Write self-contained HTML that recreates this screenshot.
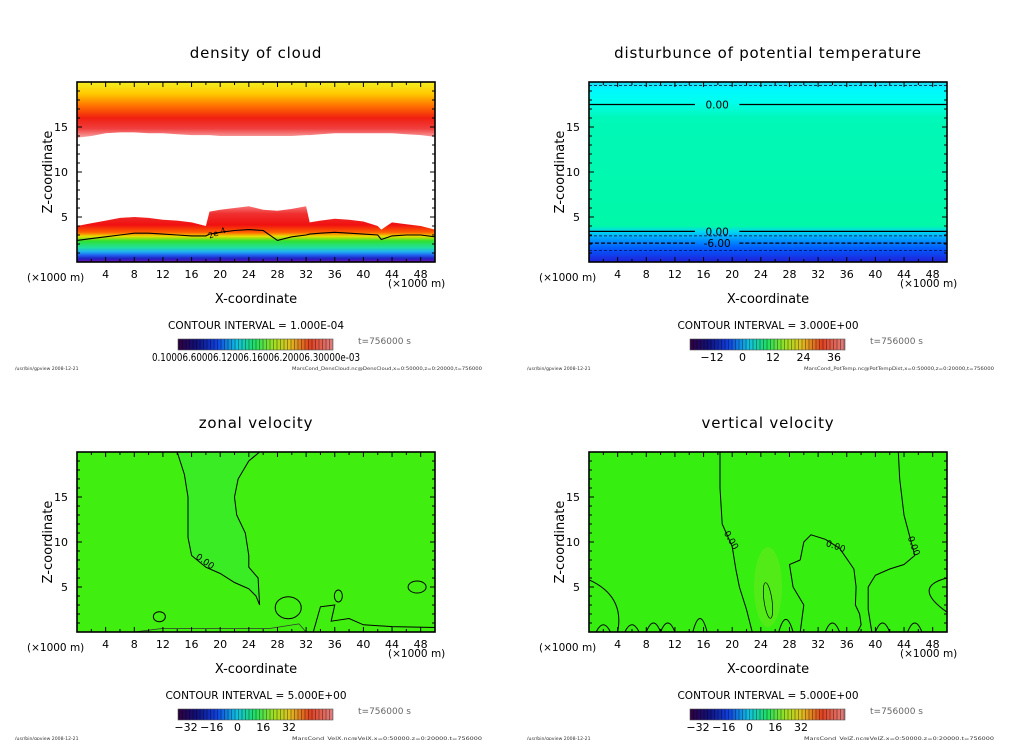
<!DOCTYPE html>
<html><head><meta charset="utf-8">
<style>
html,body{margin:0;padding:0;background:#fff;}
svg{display:block;font-family:"DejaVu Sans","Liberation Sans",sans-serif;}
</style></head>
<body>
<svg id="fig" width="1024" height="740" viewBox="0 0 1024 740" xmlns="http://www.w3.org/2000/svg">
<defs>
<linearGradient id="cbar" x1="0" x2="1" y1="0" y2="0">
<stop offset="0" stop-color="#300040"/><stop offset="0.12" stop-color="#10107a"/><stop offset="0.25" stop-color="#1040e0"/>
<stop offset="0.38" stop-color="#10c0e0"/><stop offset="0.5" stop-color="#20e060"/><stop offset="0.62" stop-color="#a0e020"/>
<stop offset="0.72" stop-color="#e0c020"/><stop offset="0.85" stop-color="#e04020"/><stop offset="1" stop-color="#e08080"/>
</linearGradient>
<pattern id="stripes" width="3.5" height="10" patternUnits="userSpaceOnUse"><rect x="0" y="0" width="1" height="10" fill="rgba(0,0,0,0.35)"/></pattern>
<linearGradient id="topcloud" x1="0" x2="0" y1="82" y2="142" gradientUnits="userSpaceOnUse">
<stop offset="0" stop-color="#f4f020"/><stop offset="0.2" stop-color="#ffc800"/><stop offset="0.4" stop-color="#ff7000"/>
<stop offset="0.6" stop-color="#f02010"/><stop offset="0.78" stop-color="#f04040"/><stop offset="0.92" stop-color="#f8a0a0"/><stop offset="1" stop-color="#fde0e0"/>
</linearGradient>
<linearGradient id="lowcloud" x1="0" x2="0" y1="205" y2="262" gradientUnits="userSpaceOnUse">
<stop offset="0" stop-color="#f88080"/><stop offset="0.15" stop-color="#f03030"/><stop offset="0.35" stop-color="#f01010"/>
<stop offset="0.48" stop-color="#ff6000"/><stop offset="0.55" stop-color="#e8e000"/><stop offset="0.63" stop-color="#30e030"/>
<stop offset="0.75" stop-color="#20e0a0"/><stop offset="0.82" stop-color="#20b0f0"/><stop offset="0.88" stop-color="#2060f0"/>
<stop offset="0.94" stop-color="#2020c0"/><stop offset="1" stop-color="#7010b0"/>
</linearGradient>
<linearGradient id="ptemp" x1="0" x2="0" y1="82" y2="262" gradientUnits="userSpaceOnUse">
<stop offset="0" stop-color="#20d8f0"/><stop offset="0.04" stop-color="#00f8ff"/><stop offset="0.11" stop-color="#00ffee"/>
<stop offset="0.2" stop-color="#00f8b8"/><stop offset="0.8" stop-color="#00f8a8"/><stop offset="0.83" stop-color="#00d8f0"/>
<stop offset="0.87" stop-color="#00a0ff"/><stop offset="0.92" stop-color="#0060ff"/><stop offset="1" stop-color="#2020d8"/>
</linearGradient>
</defs>
<g id="root"></g>
</svg>
<script>
// ---- data ----
const xTicks = [4,8,12,16,20,24,28,32,36,40,44,48];
const zTicks = [5,10,15];
const cbLabelsPT = ["-12","0","12","24","36"];
const cbValuesPT = [-12,0,12,24,36];
const cbLabelsV = ["-32","-16","0","16","32"];
const cbValuesV = [-32,-16,0,16,32];
// density of cloud: lower cloud top height (km) at x (km)
const cloudX = [0,2,4,6,8,10,12,14,16,18,18.5,20,22,24,26,28,30,32,32.5,34,36,38,40,42,42.5,44,46,48,50];
const cloudTop = [4.0,4.3,4.6,4.9,5.0,4.9,4.7,4.6,4.4,4.0,5.6,5.8,6.0,6.2,5.8,5.7,5.9,6.2,4.4,4.6,4.8,4.7,4.5,4.0,3.6,4.4,4.2,4.0,3.6];
const upperBase = [13.8,14.0,14.3,14.4,14.4,14.3,14.3,14.2,14.1,14.1,14.1,14.0,14.0,14.0,14.0,14.0,14.0,14.1,14.1,14.2,14.3,14.3,14.3,14.3,14.3,14.3,14.2,14.1,13.9];
const contour2e4 = [2.4,2.6,2.8,3.0,3.2,3.2,3.1,3.0,2.9,2.9,3.1,3.3,3.5,3.6,3.5,2.4,2.8,3.0,3.1,3.2,3.3,3.2,3.1,3.0,2.5,2.9,3.0,3.0,2.8];
// zonal velocity 0-contour
const zonalX = [14,15,15.5,15.5,16,18,20,22,24,25,25.5,25.3,24,24,23.5,22.3,22,22.5,24,25.5];
const zonalZ = [20,17.5,15,10.5,8.5,7.2,6.5,5.5,4.8,4.0,3.0,6.0,7.2,8.5,11,13,15,17,19,20];
// vertical velocity 0-contours
const vvAx = [18.3,18.3,18.6,20,20.5,21,22,22.8];
const vvAz = [20,16,12,9.5,7,5,2.5,0];
const vvBx = [43.2,43.4,44,45,45.5,44,42,40,39,39,39.5];
const vvBz = [20,17,13,10,8.5,7.5,7.0,6.3,5,2.5,0];
const vvCx = [29.5,30,31,33,35,37,37.3,37.2,37.8,38,37.5];
const vvCz = [8,10,10.8,10.3,9.3,7,5,3,2,0.8,0];

const NS='http://www.w3.org/2000/svg';
const root=document.getElementById('root');
function el(tag,attrs,parent){const e=document.createElementNS(NS,tag);for(const k in attrs)e.setAttribute(k,attrs[k]);(parent||root).appendChild(e);return e;}
function txt(s,attrs,parent){const e=el('text',attrs,parent);e.textContent=s;return e;}

function panel(ox,oy,name,title,fill){
  const g=el('g',{});
  
  
  const L=ox+77,R=ox+435,T=oy+82,B=oy+262;
  const sx=v=>L+(R-L)*v/50, sz=v=>B-(B-T)*v/20;
  const t=txt(title,{x:ox+256,y:oy+58,'font-size':15,'text-anchor':'middle',fill:'#000','letter-spacing':'0.8'},g);
  
  
  const plot=el('g',{},g);
  
  
  fill(plot,sx,sz,L,R,T,B);
  const fr=el('rect',{x:L,y:T,width:R-L,height:B-T,fill:'none',stroke:'#000','stroke-width':1.6},g);
  
  
  for(let v=2;v<50;v+=2){const major=v%4===0;const h=major?5:3;
    el('line',{x1:sx(v),x2:sx(v),y1:B,y2:B-h,stroke:'#000','stroke-width':1},g);
    el('line',{x1:sx(v),x2:sx(v),y1:T,y2:T+h,stroke:'#000','stroke-width':1},g);}
  for(let v=1;v<20;v++){const major=v%5===0;const h=major?5:3;
    el('line',{x1:L,x2:L+h,y1:sz(v),y2:sz(v),stroke:'#000','stroke-width':1},g);
    el('line',{x1:R,x2:R-h,y1:sz(v),y2:sz(v),stroke:'#000','stroke-width':1},g);}
  xTicks.forEach(v=>{const e=txt(String(v),{x:sx(v),y:B+16,'font-size':11,'text-anchor':'middle'},g);
    
    });
  zTicks.forEach(v=>{const e=txt(String(v),{x:L-9,y:sz(v)+4,'font-size':11,'text-anchor':'end'},g);
    
    });
  const u1=txt('(×1000 m)',{x:ox+27,y:oy+281,'font-size':10.5},g);
  
  
  const u2=txt('(×1000 m)',{x:ox+388,y:oy+287,'font-size':10.5},g);
  
  
  const xa=txt('X-coordinate',{x:ox+256,y:oy+303,'font-size':13,'text-anchor':'middle'},g);
  
  
  const za=txt('Z-coordinate',{x:0,y:0,'font-size':13,'text-anchor':'middle',transform:`translate(${ox+52},${oy+172}) rotate(-90)`},g);
  
  
  return {g,sx,sz,L,R,T,B};
}

function colorbarBlock(ox,oy,name,interval,labels,values,vmin,vmax,garbled,dx){
  const g=el('g',{});
  
  
  const ci=txt('CONTOUR INTERVAL = '+interval,{x:ox+256,y:oy+329,'font-size':10.5,'text-anchor':'middle'},g);
  
  
  el('rect',{x:ox+178,y:oy+339,width:155,height:11,fill:'url(#cbar)'},g);
  el('rect',{x:ox+178,y:oy+339,width:155,height:11,fill:'url(#stripes)'},g);
  el('rect',{x:ox+178,y:oy+339,width:155,height:11,fill:'none',stroke:'#555','stroke-width':0.6},g);
  if(garbled){
    const e=txt(garbled,{x:ox+152,y:oy+361,'font-size':11,textLength:208,lengthAdjust:'spacingAndGlyphs'},g);
    
    
  } else {
    const cx=v=>ox+dx[0]+(dx[1]-dx[0])*(v-vmin)/(vmax-vmin);
    labels.forEach((s,i)=>{const e=txt(s.replace('-','−'),{x:cx(values[i]),y:oy+361,'font-size':11,'text-anchor':'middle'},g);
      
      });
  }
  const tt=txt('t=756000 s',{x:ox+358,y:oy+344,'font-size':9,fill:'#666'},g);
  
  
  const f1=txt('/usr/bin/gpview   2008-12-21',{x:ox+15,y:oy+370,'font-size':4.6,fill:'#333'},g);
  
  
  const f2=txt(name,{x:ox+292,y:oy+370,'font-size':4.6,fill:'#333',textLength:190,lengthAdjust:'spacingAndGlyphs'},g);
  
  
}

function linePath(xs,zs,sx,sz){return xs.map((x,i)=>(i?'L':'M')+sx(x).toFixed(1)+','+sz(zs[i]).toFixed(1)).join(' ');}

// Panel 1: density of cloud
panel(0,0,'density-cloud','density of cloud',(p,sx,sz,L,R,T,B)=>{
  const up=el('path',{d:`M${L},${T} L${R},${T} `+cloudX.slice().reverse().map((x,i)=>'L'+sx(x)+','+sz(upperBase[upperBase.length-1-i])).join(' ')+' Z',fill:'url(#topcloud)'},p);
  
  
  const low=el('path',{d:linePath(cloudX,cloudTop,sx,sz)+` L${R},${B} L${L},${B} Z`,fill:'url(#lowcloud)'},p);
  
  
  const c=el('path',{d:linePath(cloudX,contour2e4,sx,sz),fill:'none',stroke:'#000','stroke-width':1.1},p);
  
  
  txt('2e-4',{x:sx(18.5),y:sz(2.6),'font-size':8,transform:`rotate(-20 ${sx(18.5)} ${sz(2.6)})`},p);
});
// Panel 2: potential temperature
panel(512,0,'potential-temperature','disturbunce of potential temperature',(p,sx,sz,L,R,T,B)=>{
  const bg=el('rect',{x:L,y:T,width:R-L,height:B-T,fill:'url(#ptemp)'},p);
  
  
  [[17.5,0,'0.00'],[3.4,0,'0.00'],[2.1,1,'-6.00']].forEach(([z,d,l])=>{
    const y=sz(z);
    el('line',{x1:L,x2:sx(14.8),y1:y,y2:y,stroke:'#000','stroke-width':1.2,'stroke-dasharray':d?'4,2':'none'},p);
    el('line',{x1:sx(21),x2:R,y1:y,y2:y,stroke:'#000','stroke-width':1.2,'stroke-dasharray':d?'4,2':'none'},p);
    txt(l,{x:sx(17.9),y:y+4,'font-size':10.5,'text-anchor':'middle'},p);
  });
  [19.6,2.9,1.3].forEach(z=>el('line',{x1:L,x2:R,y1:sz(z),y2:sz(z),stroke:'#003','stroke-width':0.7,'stroke-dasharray':'3,2'},p));
});
// Panel 3: zonal velocity
panel(0,370,'zonal-velocity','zonal velocity',(p,sx,sz,L,R,T,B)=>{
  const bg=el('rect',{x:L,y:T,width:R-L,height:B-T,fill:'#40ee10'},p);
  
  
  const c=el('path',{d:linePath(zonalX,zonalZ,sx,sz),fill:'#3aec24',stroke:'#000','stroke-width':1},p);
  
  
  txt('0.00',{x:sx(16.5),y:sz(8.2),'font-size':9,transform:`rotate(35 ${sx(16.5)} ${sz(8.2)})`},p);
  el('ellipse',{cx:sx(29.5),cy:sz(2.7),rx:13,ry:11,fill:'none',stroke:'#000','stroke-width':1},p);
  el('ellipse',{cx:sx(47.5),cy:sz(5),rx:9,ry:6,fill:'none',stroke:'#000','stroke-width':1},p);
  el('ellipse',{cx:sx(11.5),cy:sz(1.7),rx:6,ry:5,fill:'none',stroke:'#000','stroke-width':1},p);
  el('ellipse',{cx:sx(36.5),cy:sz(4),rx:4,ry:6,fill:'none',stroke:'#000','stroke-width':1},p);
  el('path',{d:`M${sx(33)},${B} L${sx(34)},${sz(2.8)} L${sx(36)},${sz(3)} L${sx(35.5)},${sz(1.2)} L${sx(38)},${sz(1.5)} L${sx(40)},${sz(0.8)} L${sx(44)},${sz(0.6)} L${sx(50)},${sz(0.5)}`,fill:'none',stroke:'#000','stroke-width':1},p);
  el('path',{d:`M${sx(8)},${B} L${sx(12)},${sz(0.4)} L${sx(27)},${sz(0.4)} L${sx(31)},${sz(0.9)} L${sx(32)},${B}`,fill:'none',stroke:'#333','stroke-width':0.7},p);
});
// Panel 4: vertical velocity
panel(512,370,'vertical-velocity','vertical velocity',(p,sx,sz,L,R,T,B)=>{
  const bg=el('rect',{x:L,y:T,width:R-L,height:B-T,fill:'#36ee10'},p);
  
  
  el('ellipse',{cx:sx(25),cy:sz(5),rx:14,ry:40,fill:'#70e820',opacity:0.5},p);
  [[vvAx,vvAz],[vvBx,vvBz],[vvCx,vvCz]].forEach(([xs,zs])=>{
    const c=el('path',{d:linePath(xs,zs,sx,sz),fill:'none',stroke:'#000','stroke-width':1},p);
    
    
  });
  el('path',{d:`M${sx(29.5)},${sz(8)} L${sx(28)},${sz(7.5)} L${sx(28.5)},${sz(5)} L${sx(30)},${sz(3)} L${sx(29.5)},${B}`,fill:'none',stroke:'#000','stroke-width':1},p);
  el('ellipse',{cx:sx(25),cy:sz(3.5),rx:4,ry:18,fill:'none',stroke:'#000','stroke-width':0.7,transform:`rotate(-8 ${sx(25)} ${sz(3.5)})`},p);
  el('path',{d:`M${L},${sz(5.8)} Q${sx(5)},${sz(4)} ${sx(4)},${B}`,fill:'none',stroke:'#000','stroke-width':1},p);
  el('path',{d:`M${R},${sz(6)} Q${sx(45)},${sz(5)} ${R},${sz(2.2)}`,fill:'none',stroke:'#000','stroke-width':1},p);
  [[9,1],[15.5,1.5],[27.5,1.4],[34,1],[41,1],[45.5,1],[11,1],[6,0.8],[2,0.8]].forEach(([x,h])=>
    el('path',{d:`M${sx(x-1)},${B} Q${sx(x)},${sz(h*2)} ${sx(x+1)},${B}`,fill:'none',stroke:'#000','stroke-width':1},p));
  txt('0.00',{x:sx(18.8),y:sz(11),'font-size':9,transform:`rotate(60 ${sx(18.8)} ${sz(11)})`},p);
  txt('0.00',{x:sx(33),y:sz(9.6),'font-size':9,transform:`rotate(20 ${sx(33)} ${sz(9.6)})`},p);
  txt('0.00',{x:sx(44.5),y:sz(10.5),'font-size':9,transform:`rotate(70 ${sx(44.5)} ${sz(10.5)})`},p);
});

colorbarBlock(0,0,'MarsCond_DensCloud.nc@DensCloud,x=0:50000,z=0:20000,t=756000','1.000E-04',null,null,0,1,'0.10006.60006.12006.16006.20006.30000e-03');
colorbarBlock(512,0,'MarsCond_PotTemp.nc@PotTempDist,x=0:50000,z=0:20000,t=756000','3.000E+00',cbLabelsPT,cbValuesPT,-12,36,null,[200,322]);
colorbarBlock(0,370,'MarsCond_VelX.nc@VelX,x=0:50000,z=0:20000,t=756000','5.000E+00',cbLabelsV,cbValuesV,-32,32,null,[186,289]);
colorbarBlock(512,370,'MarsCond_VelZ.nc@VelZ,x=0:50000,z=0:20000,t=756000','5.000E+00',cbLabelsV,cbValuesV,-32,32,null,[186,289]);
</script>
</body></html>
